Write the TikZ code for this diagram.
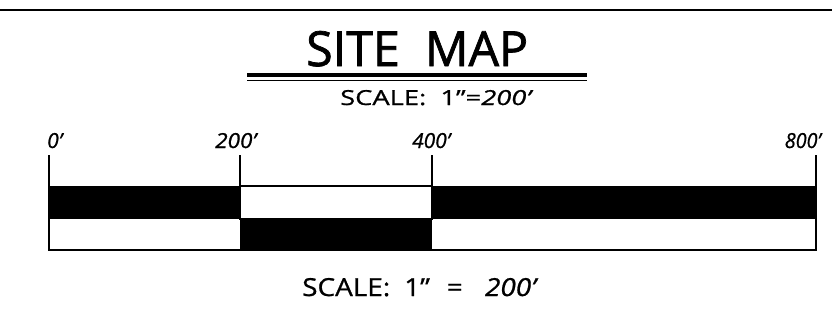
\documentclass[tikz,border=0pt]{standalone}
\usepackage{graphicx}
\usepackage{fontspec}
\setmainfont{Open Sans}
\newfontfamily\headfont[FakeBold=1.5]{Open Sans}
\newfontfamily\markfont[FakeBold=0.8]{Open Sans}
% text stretched to a given width and cap height
\newcommand{\fitto}[3]{\resizebox{#1pt}{#2pt}{#3}}
\begin{document}
\begin{tikzpicture}[x=1pt,y=-1pt,
  lbl/.style={inner sep=0pt,font=\markfont\fontsize{21}{21}\selectfont\itshape},
  txt/.style={inner sep=0pt},
  rule/.style={line width=1.3pt}]
\useasboundingbox (0,0) rectangle (832,324);
\fill[white] (0,0) rectangle (832,324);
% top border line
\coordinate (tl) at (0,9.5);
\coordinate (tr) at (832,9.5);
\draw[line width=2pt] (tl) -- (tr);
% title and its double underline
\node[txt,anchor=base west,font=\headfont\fontsize{49}{49}\selectfont] (title) at (306,66) {\fitto{222}{35}{SITE\ \ MAP}};
\coordinate (ul1) at (247,75); \coordinate (ur1) at (587,75);
\coordinate (ul2) at (247,80.5); \coordinate (ur2) at (587,80.5);
\draw[line width=4pt] (ul1) -- (ur1);
\draw[line width=1.8pt] (ul2) -- (ur2);
\node[txt,anchor=base west,font=\markfont\fontsize{21}{21}\selectfont] (sub) at (340,105) {\fitto{193}{15}{SCALE:\ \ 1”=\textit{200’}}};
% scale bar
\coordinate (a0) at (49,155); \coordinate (a1) at (240,155);
\coordinate (a2) at (432,155); \coordinate (a3) at (816,155);
\fill (49,186) rectangle (240,219);
\fill (432,186) rectangle (816,219);
\fill (240,219) rectangle (432,250);
\draw[rule] (240,186) rectangle (432,219);
\draw[rule] (a0) -- (49,250) -- (816,250) -- (a3);
\draw[rule] (a1) -- (240,186);
\draw[rule] (a2) -- (432,186);
% distance labels
\node[lbl,anchor=base west] (l0) at (47,148) {\fitto{15}{15}{0’}};
\node[lbl,anchor=base west] (l1) at (215,148) {\fitto{41}{15}{200’}};
\node[lbl,anchor=base west] (l2) at (412,148) {\fitto{38}{15}{400’}};
\node[lbl,anchor=base east] (l3) at (821,148) {\fitto{36}{15}{800’}};
% caption under the bar
\node[txt,anchor=base west,font=\markfont\fontsize{25}{25}\selectfont] (cap) at (302,296) {\fitto{236}{18}{SCALE:\hspace{0.5em}1”\hspace{0.6em}=\hspace{0.8em}\textit{200’}}};
\end{tikzpicture}
\end{document}
